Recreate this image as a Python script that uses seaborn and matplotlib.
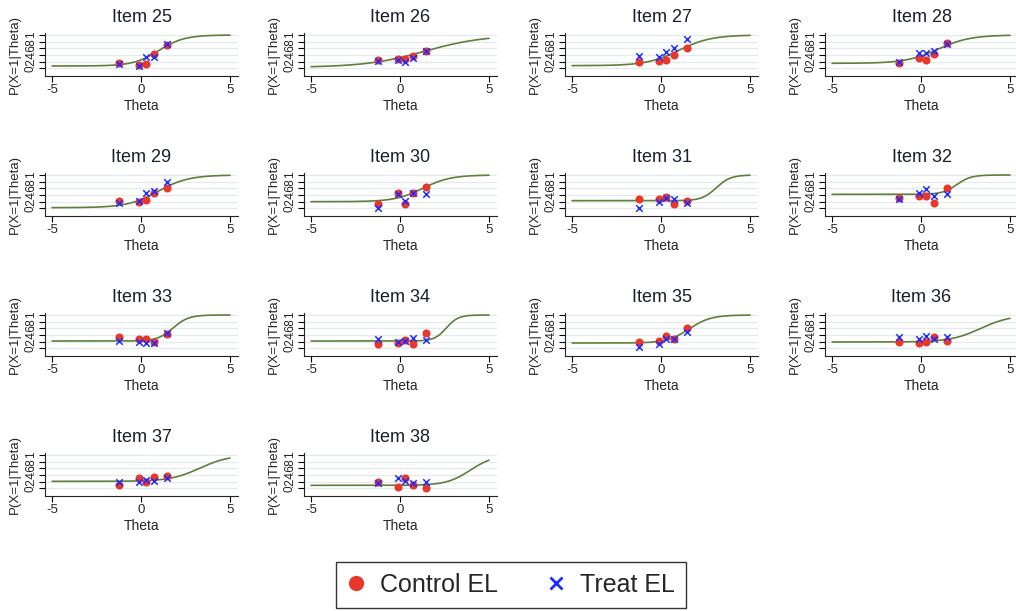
import numpy as np
import pandas as pd
import matplotlib
matplotlib.use("Agg")
import matplotlib.pyplot as plt
from matplotlib.lines import Line2D
import seaborn as sns

sns.set_theme(style="white")
plt.rcParams['font.family'] = ['Liberation Sans', 'DejaVu Sans']

# items shown, one panel each
items = [25, 26, 27, 28, 29, 30, 31, 32, 33, 34, 35, 36, 37, 38]

# theta group means where the observed proportions sit
theta_pts = [-1.22, -0.12, 0.29, 0.73, 1.48]

control_el = [
    [0.15, 0.10, 0.13, 0.42, 0.69],  # 25
    [0.25, 0.28, 0.29, 0.37, 0.52],  # 26
    [0.19, 0.22, 0.26, 0.39, 0.62],  # 27
    [0.16, 0.32, 0.24, 0.43, 0.76],  # 28
    [0.22, 0.20, 0.25, 0.45, 0.62],  # 29
    [0.14, 0.47, 0.12, 0.45, 0.63],  # 30
    [0.27, 0.28, 0.33, 0.12, 0.22],  # 31
    [0.32, 0.37, 0.37, 0.15, 0.62],  # 32
    [0.33, 0.27, 0.28, 0.20, 0.42],  # 33
    [0.12, 0.17, 0.25, 0.14, 0.45],  # 34
    [0.18, 0.22, 0.37, 0.28, 0.62],  # 35
    [0.20, 0.17, 0.18, 0.34, 0.23],  # 36
    [0.10, 0.32, 0.20, 0.33, 0.37],  # 37
    [0.19, 0.04, 0.32, 0.10, 0.02],  # 38
]
treat_el = [
    [0.13, 0.08, 0.35, 0.35, 0.72],  # 25
    [0.23, 0.24, 0.19, 0.30, 0.51],  # 26
    [0.37, 0.35, 0.50, 0.60, 0.88],  # 27
    [0.20, 0.45, 0.45, 0.52, 0.74],  # 28
    [0.15, 0.22, 0.45, 0.52, 0.78],  # 29
    [0.00, 0.43, 0.22, 0.47, 0.43],  # 30
    [0.00, 0.18, 0.32, 0.27, 0.17],  # 31
    [0.28, 0.45, 0.57, 0.38, 0.43],  # 32
    [0.23, 0.18, 0.15, 0.15, 0.47],  # 33
    [0.28, 0.19, 0.22, 0.30, 0.24],  # 34
    [0.04, 0.14, 0.28, 0.28, 0.50],  # 35
    [0.33, 0.27, 0.37, 0.28, 0.34],  # 36
    [0.20, 0.18, 0.25, 0.23, 0.30],  # 37
    [0.15, 0.30, 0.22, 0.17, 0.20],  # 38
]

# 3PL item parameters (discrimination, difficulty, guessing) fitted by eye
irt_a = [1.4, 0.6, 1.1, 1.1, 1.16, 1.28, 2.5, 2.5, 2.3, 3.0, 1.64, 1.18, 1.2, 1.5]
irt_b = [1.0, 1.4, 1.0, 0.95, 0.95, 1.28, 3.1, 2.0, 1.8, 2.6, 1.57, 3.34, 3.3, 3.95]
irt_c = [0.07, 0.03, 0.08, 0.15, 0.02, 0.20, 0.23, 0.42, 0.22, 0.22, 0.16, 0.19, 0.21, 0.09]

red = '#e8382b'
blue = '#1f2bff'
olive = '#5f7f3a'
grid_col = '#e2eaee'

W, H = 1016, 611
fig = plt.figure(figsize=(W / 100, H / 100), dpi=100)
col_left = [45, 304, 565, 825]
theta_grid = np.linspace(-5, 5, 300)

for i, item in enumerate(items):
    row, col = divmod(i, 4)
    left = col_left[col]
    top = 33 + 140 * row
    ax = fig.add_axes([left / W, 1 - (top + 43) / H, 193 / W, 43 / H])

    a, b, c = irt_a[i], irt_b[i], irt_c[i]
    icc = c + (1 - c) / (1 + np.exp(-a * (theta_grid - b)))
    sns.lineplot(x=theta_grid, y=icc, color=olive, lw=1.2, ax=ax, zorder=2)

    sns.scatterplot(x=theta_pts, y=control_el[i], color=red, marker='o', s=34,
                    edgecolor=red, linewidth=0, ax=ax, zorder=3)
    sns.scatterplot(x=theta_pts, y=treat_el[i], color=blue, marker='x', s=22,
                    linewidth=1.1, ax=ax, zorder=4)

    ax.set_xlim(-5.4, 5.45)
    ax.set_ylim(-0.23, 1.06)
    ax.set_xticks([-5, 0, 5])
    ax.set_xticklabels(['-5', '0', '5'], fontsize=9.5)
    ax.set_yticks([0, 0.2, 0.4, 0.6, 0.8, 1])
    ax.set_yticklabels(['0', '.2', '.4', '.6', '.8', '1'], fontsize=8.5,
                       rotation=90, va='center')
    ax.tick_params(axis='both', length=4, width=0.8, color='black',
                   direction='out', pad=2, bottom=True, left=True)
    ax.yaxis.grid(True, color=grid_col, lw=0.9)
    ax.xaxis.grid(False)
    for s in ['top', 'right']:
        ax.spines[s].set_visible(False)
    for s in ['left', 'bottom']:
        ax.spines[s].set_color('#222222')
        ax.spines[s].set_linewidth(0.8)
    ax.set_xlabel('Theta', fontsize=10, labelpad=2)
    ax.set_ylabel('P(X=1|Theta)', fontsize=9.5, labelpad=3)
    ax.set_title(f'Item {item}', fontsize=13, pad=8, color='#1a1f2e')

handles = [
    Line2D([], [], ls='none', marker='o', color=red, markersize=10),
    Line2D([], [], ls='none', marker='x', color=blue, markersize=8, mew=2),
]
leg = fig.legend(handles, ['Control EL', 'Treat EL'], loc='center',
                 bbox_to_anchor=(511 / W, 1 - 585 / H), ncol=2, frameon=True,
                 fancybox=False, edgecolor='black', fontsize=18,
                 columnspacing=2.0, handletextpad=0.6, borderpad=0.45,
                 handlelength=0.7, borderaxespad=0)
leg.get_frame().set_linewidth(1.0)

fig.savefig('out.png', dpi=100, facecolor='white')
